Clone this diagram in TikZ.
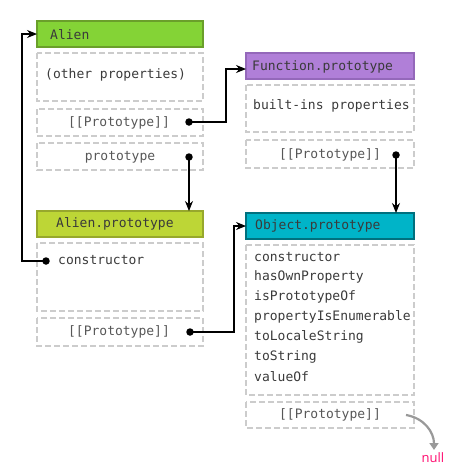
\documentclass[tikz,border=0pt]{standalone}
\usepackage{fontspec}
\setmainfont{DejaVu Sans Mono}
\newfontfamily\nulltextfont{Open Sans}
\usetikzlibrary{arrows.meta}
\definecolor{txt}{HTML}{3A3A3A}
\definecolor{dgray}{HTML}{CCCCCC}
\definecolor{alienfill}{HTML}{84D336}
\definecolor{alienbd}{HTML}{6A9F2A}
\definecolor{aprotofill}{HTML}{BDD636}
\definecolor{aprotobd}{HTML}{97A82C}
\definecolor{funcfill}{HTML}{B07FD8}
\definecolor{funcbd}{HTML}{9468BA}
\definecolor{objfill}{HTML}{00B4C8}
\definecolor{objbd}{HTML}{00707E}
\definecolor{nullcol}{HTML}{FF0A6E}
\begin{document}
\begin{tikzpicture}[x=1pt,y=-1pt,
  header/.style={draw, line width=1.6pt, minimum height=26pt, inner sep=0pt},
  dbox/.style={draw=dgray, line width=1.5pt, dash pattern=on 6pt off 3pt, inner sep=0pt},
  lbl/.style={font=\fontsize{13}{15}\selectfont, text=txt, inner sep=0pt, anchor=west},
  clbl/.style={font=\fontsize{13}{15}\selectfont, text=txt!85, inner sep=0pt},
  dotc/.style={circle, fill=black, inner sep=0pt, minimum size=7.5pt},
  conn/.style={line width=1.1pt, -{Stealth[length=10pt,width=8pt]}}]
\useasboundingbox (0,0) rectangle (458,472);
% ---- Alien column
\draw[header, draw=alienbd, fill=alienfill] (37,21) rectangle (203,47);
\node[lbl] (alien) at (50,35) {Alien};
\coordinate (alienL) at (37,34);
\draw[dbox] (37,53) rectangle (203,101);
\node[lbl] (other) at (45,75) {(other properties)};
\draw[dbox] (37,109) rectangle (203,136);
\node[clbl] (aproto1) at (119,123) {[[Prototype]]};
\node[dotc] (d1) at (189,122) {};
\draw[dbox] (37,143) rectangle (203,170);
\node[clbl] (protoprop) at (120,157) {prototype};
\node[dotc] (d2) at (189,157) {};
% ---- Alien.prototype
\draw[header, draw=aprotobd, fill=aprotofill] (37,211) rectangle (203,237);
\node[lbl] (ap) at (56,224) {Alien.prototype};
\coordinate (apT) at (189,211);
\draw[dbox] (37,243) rectangle (203,311);
\node[dotc] (d3) at (46,261) {};
\node[lbl] (ctor) at (58,260) {constructor};
\draw[dbox] (37,318) rectangle (203,346);
\node[clbl] (aproto2) at (119,332) {[[Prototype]]};
\node[dotc] (d4) at (190,332) {};
% ---- Function.prototype
\draw[header, draw=funcbd, fill=funcfill] (246,53) rectangle (414,79);
\node[lbl] (fp) at (252,67) {Function.prototype};
\coordinate (fpL) at (246,69);
\draw[dbox] (246,85) rectangle (414,132);
\node[lbl] (bi) at (253,106) {built-ins properties};
\draw[dbox] (246,140) rectangle (414,168);
\node[clbl] (fproto) at (330,155) {[[Prototype]]};
\node[dotc] (d5) at (396,155) {};
% ---- Object.prototype
\draw[header, draw=objbd, fill=objfill] (246,213) rectangle (414,239);
\node[lbl] (op) at (255,226) {Object.prototype};
\coordinate (opL) at (246,226);
\coordinate (opT) at (396,213);
\draw[dbox] (246,245) rectangle (414,395);
\foreach \t [count=\i] in {constructor,hasOwnProperty,isPrototypeOf,propertyIsEnumerable,toLocaleString,toString,valueOf}
  \node[lbl] (m\i) at (254,{258+20*(\i-1)-1}) {\t};
\draw[dbox] (246,402) rectangle (414,428);
\node[clbl] (oproto) at (330,415) {[[Prototype]]};
\node[font=\nulltextfont\fontsize{13}{15}\selectfont, text=nullcol, inner sep=0pt] (null) at (433,458) {null};
% ---- connectors
\draw[conn] (d3.center) -- (22,261) |- (alienL);
\draw[conn] (d1.center) -- (226,122) |- (fpL);
\draw[conn] (d2.center) -- (apT);
\draw[conn] (d5.center) -- (opT);
\draw[conn] (d4.center) -- (234,332) |- (opL);
\draw[line width=2.2pt, draw=black!40, -{Triangle[length=7pt,width=9pt]}] (406,415) .. controls (424,418) and (434,432) .. (434,450);
\end{tikzpicture}
\end{document}
